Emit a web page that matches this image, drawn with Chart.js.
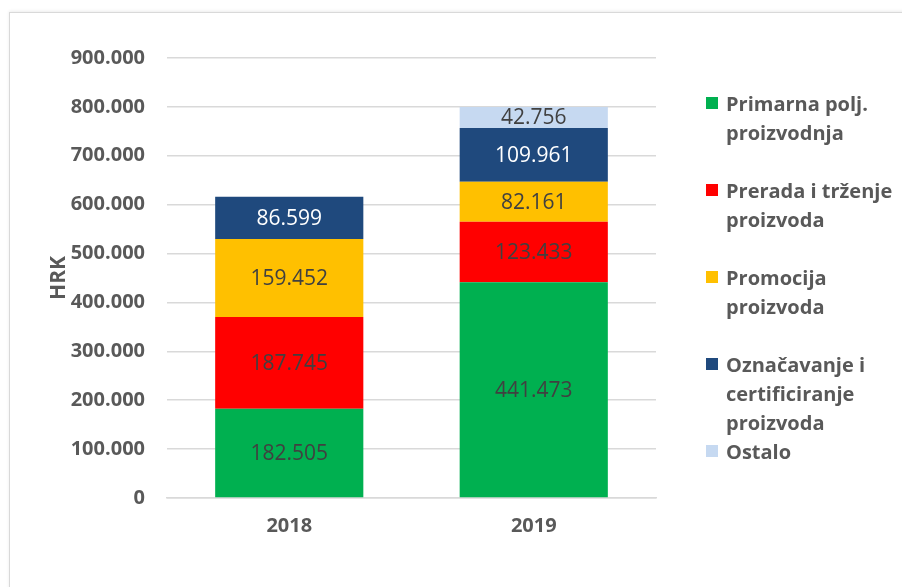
<!DOCTYPE html>
<html>
<head>
<meta charset="utf-8">
<script src="https://cdn.jsdelivr.net/npm/chart.js@4"></script>
<style>
    body { margin: 0; background: #ffffff; overflow: hidden; }
    #frame { position: absolute; left: 9px; top: 12px; width: 1000px; height: 1000px; border: 1px solid #d9d9d9; box-shadow: 0 -1px 3px rgba(0,0,0,0.08); }
    #chart_view { position: absolute; left: 0; top: 0; }
    #legend { position: absolute; left: 706px; top: 89px; font-family: "Open Sans", sans-serif; font-weight: bold; font-size: 20px; line-height: 29px; color: #595959; }
    .legend_item { position: relative; padding-left: 20px; margin-bottom: 29px; }
    .legend_item:nth-child(4) { margin-bottom: 0; }
    .legend_box { position: absolute; left: 0; top: 8px; width: 12px; height: 12px; }
</style>
</head>
<body>
<div id="frame"></div>
<canvas id="chart_view" width="902" height="587"></canvas>
<div id="legend"></div>
<script>
const years = ['2018', '2019'];
const primarna = [182505, 441473];
const prerada = [187745, 123433];
const promocija = [159452, 82161];
const oznacavanje = [86599, 109961];
const ostalo = [null, 42756];

const series_names = [
    ['Primarna polj.', 'proizvodnja'],
    ['Prerada i trženje', 'proizvoda'],
    ['Promocija', 'proizvoda'],
    ['Označavanje i', 'certificiranje', 'proizvoda'],
    ['Ostalo']
];
const series_values = [primarna, prerada, promocija, oznacavanje, ostalo];
const series_colors = ['#00b050', '#ff0000', '#ffc000', '#1f497d', '#c6d9f1'];
const label_colors = ['#404040', '#404040', '#404040', '#ffffff', '#404040'];

// format numbers like 900.000
function format_thousands(value) {
    return String(value).replace(/\B(?=(\d{3})+(?!\d))/g, '.');
}

// draw the value in the middle of every bar segment
const segment_labels = {
    id: 'segment_labels',
    afterDatasetsDraw(chart) {
        const ctx = chart.ctx;
        ctx.save();
        ctx.font = '21px "Open Sans"';
        ctx.textAlign = 'center';
        ctx.textBaseline = 'middle';
        chart.data.datasets.forEach((dataset, i) => {
            const meta = chart.getDatasetMeta(i);
            meta.data.forEach((bar, j) => {
                const value = dataset.data[j];
                if (value === null || value === undefined) {
                    return;
                }
                ctx.fillStyle = label_colors[i];
                ctx.fillText(format_thousands(value), bar.x, (bar.y + bar.base) / 2 + 1);
            });
        });
        ctx.restore();
    }
};

const chart_canvas = document.getElementById('chart_view');

const chart_handler = new Chart(chart_canvas, {
    type: 'bar',
    data: {
        labels: years,
        datasets: series_values.map((values, i) => ({
            label: series_names[i].join(' '),
            data: values,
            backgroundColor: series_colors[i],
            borderWidth: 0,
            categoryPercentage: 1,
            barPercentage: 0.606
        }))
    },
    options: {
        responsive: false,
        animation: false,
        layout: {
            padding: { left: 42, top: 58, right: 246, bottom: 0 }
        },
        scales: {
            x: {
                stacked: true,
                grid: { display: false, drawTicks: false },
                border: { color: '#d9d9d9', width: 1.5 },
                ticks: {
                    padding: 16,
                    color: '#595959',
                    font: { family: 'Open Sans', size: 20, weight: 'bold' }
                },
                afterFit: (scale) => { scale.height = 89; }
            },
            y: {
                stacked: true,
                min: 0,
                max: 900000,
                grid: { color: '#d9d9d9', lineWidth: 1.5, drawTicks: false },
                border: { display: false },
                ticks: {
                    stepSize: 100000,
                    padding: 22,
                    color: '#595959',
                    font: { family: 'Open Sans', size: 20, weight: 'bold' },
                    callback: (value) => format_thousands(value)
                },
                title: {
                    display: true,
                    text: 'HRK',
                    color: '#595959',
                    font: { family: 'Open Sans', size: 21, weight: 'bold' }
                },
                afterFit: (scale) => { scale.width = 125; }
            }
        },
        plugins: {
            legend: { display: false },
            tooltip: { enabled: false }
        }
    },
    plugins: [segment_labels]
});

// legend on the right, names wrapped like the original
const legend = document.getElementById('legend');
series_names.forEach((lines, i) => {
    const item = document.createElement('div');
    item.className = 'legend_item';
    const box = document.createElement('span');
    box.className = 'legend_box';
    box.style.background = series_colors[i];
    item.appendChild(box);
    lines.forEach((line) => {
        const row = document.createElement('div');
        row.textContent = line;
        item.appendChild(row);
    });
    legend.appendChild(item);
});
</script>
</body>
</html>
